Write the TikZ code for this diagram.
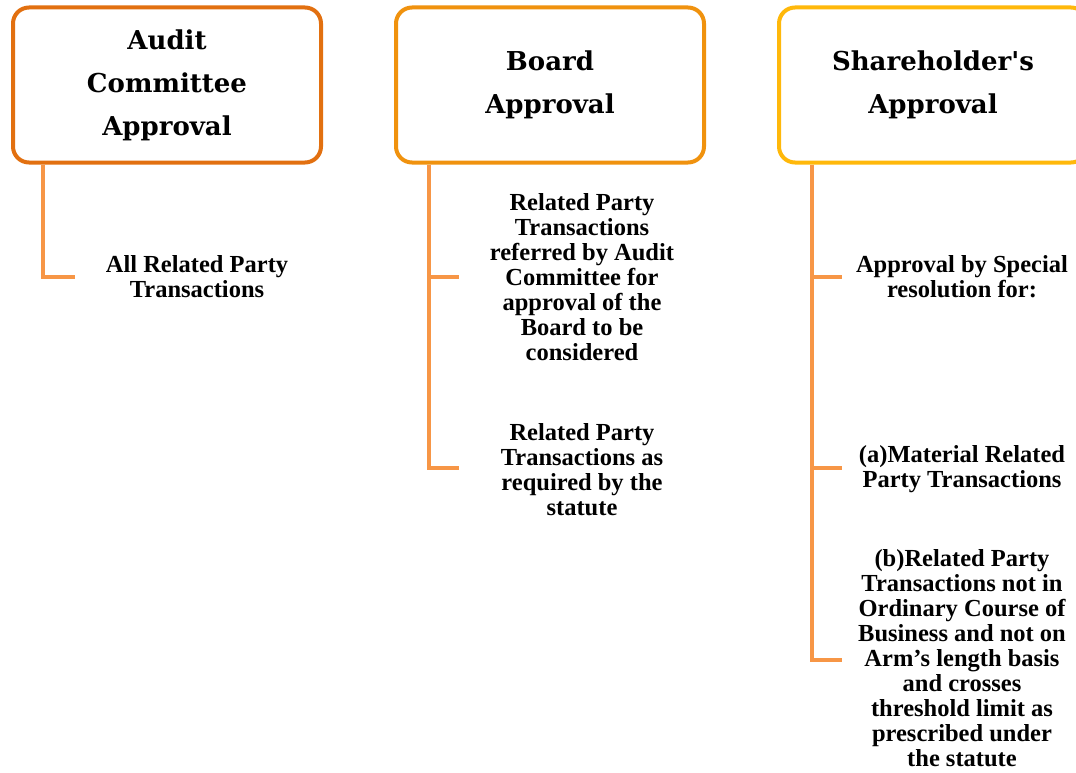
\documentclass[tikz,border=0pt]{standalone}
\usepackage{fontspec}
\setmainfont{Liberation Serif}
\newfontfamily\headfont{DejaVu Serif}
\usepackage{tikz}

\definecolor{auditorange}{RGB}{226,112,16}
\definecolor{boardorange}{RGB}{240,146,14}
\definecolor{shareyellow}{RGB}{255,184,10}
\definecolor{linkorange}{RGB}{247,150,70}

\begin{document}
\begin{tikzpicture}[x=1pt,y=-1pt,
    headbox/.style={draw, line width=4pt, rounded corners=16pt, fill=white,
        minimum width=308pt, minimum height=155pt, align=center,
        font=\headfont\fontsize{26}{43}\selectfont\bfseries},
    itemtext/.style={align=center, inner sep=0pt,
        font=\fontsize{24.5}{25}\selectfont\bfseries},
    link/.style={draw=linkorange, line width=4pt}]

            \useasboundingbox (0,0) rectangle (1076,773);

            % heads
            \node[headbox, draw=auditorange] (audit) at (167,85) {Audit\\Committee\\Approval};
            \node[headbox, draw=boardorange] (board) at (550,85) {Board\\Approval};
            \node[headbox, draw=shareyellow] (share) at (933,85) {Shareholder's\\Approval};

            % items
            \node[itemtext] (all) at (197,277) {All Related Party\\Transactions};
            \node[itemtext] (referred) at (582,277) {Related Party\\Transactions\\referred by Audit\\Committee for\\approval of the\\Board to be\\considered};
            \node[itemtext] (statute) at (582,470) {Related Party\\Transactions as\\required by the\\statute};
            \node[itemtext] (special) at (962,277) {Approval by Special\\resolution for:};
            \node[itemtext] (material) at (962,469) {(a)Material Related\\Party Transactions};
            \node[itemtext] (ordinary) at (962,658) {(b)Related Party\\Transactions not in\\Ordinary Course of\\Business and not on\\Arm's length basis\\and crosses\\threshold limit as\\prescribed under\\the statute};

            % links
            \coordinate (a1) at (43,277);
            \coordinate (b1) at (429,277);
            \coordinate (b2) at (429,468);
            \coordinate (s1) at (812,277);
            \coordinate (s2) at (812,468);
            \coordinate (s3) at (812,660);

            \draw[link] (audit.south -| a1) -- (a1) -- ++(32,0);
            \draw[link] (board.south -| b1) -- (b2) -- ++(30,0);
            \draw[link] (b1) -- ++(30,0);
            \draw[link] (share.south -| s1) -- (s3) -- ++(30,0);
            \draw[link] (s1) -- ++(30,0);
            \draw[link] (s2) -- ++(30,0);

        \end{tikzpicture}
\end{document}
